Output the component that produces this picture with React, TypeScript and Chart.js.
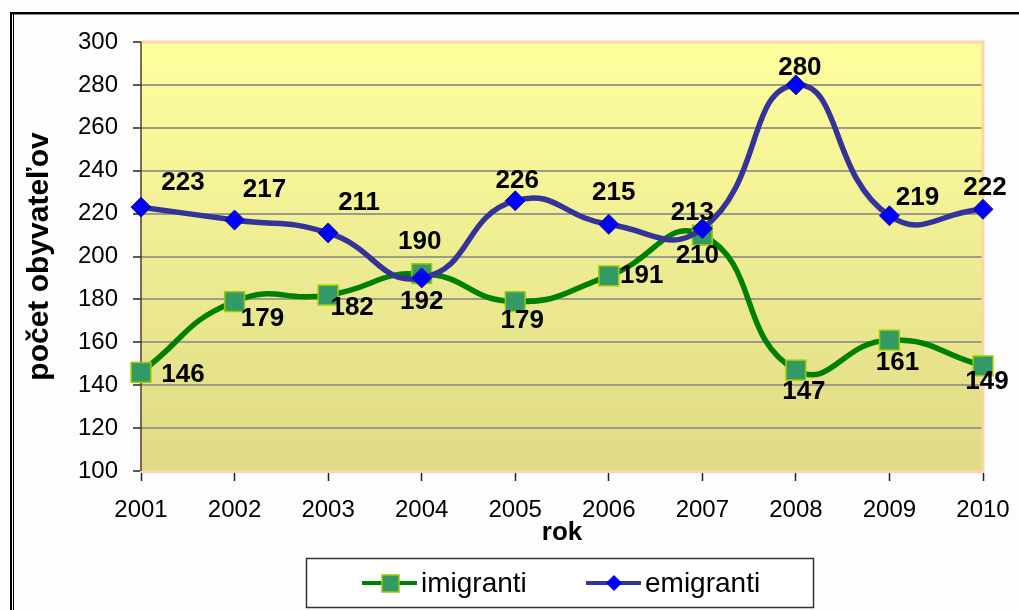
import React, { useEffect, useRef } from "react";
import { Chart, registerables } from "chart.js";

Chart.register(...registerables);

const years = ["2001", "2002", "2003", "2004", "2005", "2006", "2007", "2008", "2009", "2010"];
const imigranti = [146, 179, 182, 192, 179, 191, 210, 147, 161, 149];
const emigranti = [223, 217, 211, 190, 226, 215, 213, 280, 219, 222];
const yTicks = [100, 120, 140, 160, 180, 200, 220, 240, 260, 280, 300];

// label placement offsets (style only)
const emiLabelOffsets = [[42, -24], [30, -30], [31, -30], [-2, -36], [2, -20], [5, -31], [-10, -16], [4, -17], [28, -18], [2, -21]];
const imiLabelOffsets = [[42, 2], [28, 17], [24, 13], [0, 28], [7, 19], [33, 0], [-5, 21], [8, 22], [8, 23], [4, 16]];

const FONT = "'Liberation Sans', Arial, sans-serif";
const GREEN = "#008000";
const NAVY = "#333399";

const bgPlugin = {
  id: "bgPlugin",
  beforeDraw(chart: any) {
    const { ctx, chartArea } = chart;
    ctx.save();
    ctx.fillStyle = "#fdfdfd";
    ctx.fillRect(0, 0, chart.width, chart.height);
    // outer frame
    ctx.fillStyle = "#000";
    ctx.fillRect(10, 12, chart.width, 2);
    ctx.fillStyle = "#888";
    ctx.fillRect(12, 14, chart.width, 1);
    ctx.fillStyle = "#000";
    ctx.fillRect(10, 12, 2, chart.height);
    ctx.fillRect(13, 14, 1, chart.height);
    // plot background gradient
    const g = ctx.createLinearGradient(0, chartArea.top, 0, chartArea.bottom);
    g.addColorStop(0, "#FFFF9E");
    g.addColorStop(1, "#DEDA86");
    ctx.fillStyle = g;
    ctx.fillRect(chartArea.left, chartArea.top, chartArea.right - chartArea.left, chartArea.bottom - chartArea.top);
    ctx.restore();
  },
  beforeDatasetsDraw(chart: any) {
    const { ctx, chartArea } = chart;
    ctx.save();
    ctx.strokeStyle = "#FFD3A6";
    ctx.lineWidth = 3;
    ctx.beginPath();
    ctx.moveTo(chartArea.left, chartArea.top);
    ctx.lineTo(chartArea.right, chartArea.top);
    ctx.lineTo(chartArea.right, chartArea.bottom);
    ctx.stroke();
    ctx.strokeStyle = "#5a3a1a";
    ctx.lineWidth = 1.5;
    ctx.beginPath();
    ctx.moveTo(chartArea.left, chartArea.top);
    ctx.lineTo(chartArea.left, chartArea.bottom);
    ctx.stroke();
    ctx.restore();
  },
  afterDatasetsDraw(chart: any) {
    const { ctx } = chart;
    ctx.save();
    ctx.font = `bold 26px ${FONT}`;
    ctx.fillStyle = "#000";
    ctx.textAlign = "center";
    ctx.textBaseline = "middle";
    const sets = [
      { idx: 0, data: imigranti, off: imiLabelOffsets },
      { idx: 1, data: emigranti, off: emiLabelOffsets },
    ];
    sets.forEach((s) => {
      const meta = chart.getDatasetMeta(s.idx);
      meta.data.forEach((pt: any, i: number) => {
        const [dx, dy] = s.off[i];
        ctx.fillText(String(s.data[i]), pt.x + dx, pt.y + dy);
      });
    });
    ctx.restore();
  },
  afterDraw(chart: any) {
    const { ctx } = chart;
    ctx.save();
    // legend box
    ctx.fillStyle = "#fff";
    ctx.fillRect(306, 558, 507, 49);
    ctx.strokeStyle = "#333";
    ctx.lineWidth = 1.5;
    ctx.strokeRect(306.5, 558.5, 507, 49);
    const cy = 583;
    const ds = chart.data.datasets;
    // imigranti item
    ctx.strokeStyle = ds[0].borderColor;
    ctx.lineWidth = 4;
    ctx.beginPath();
    ctx.moveTo(362, cy);
    ctx.lineTo(417, cy);
    ctx.stroke();
    ctx.fillStyle = ds[0].pointBackgroundColor;
    ctx.fillRect(382, cy - 8, 17, 17);
    ctx.strokeStyle = ds[0].pointBorderColor;
    ctx.lineWidth = 1.5;
    ctx.strokeRect(382, cy - 8, 17, 17);
    // emigranti item
    ctx.strokeStyle = ds[1].borderColor;
    ctx.lineWidth = 4;
    ctx.beginPath();
    ctx.moveTo(586, cy);
    ctx.lineTo(641, cy);
    ctx.stroke();
    ctx.fillStyle = ds[1].pointBackgroundColor;
    ctx.beginPath();
    ctx.moveTo(614, cy - 8);
    ctx.lineTo(622, cy);
    ctx.lineTo(614, cy + 8);
    ctx.lineTo(606, cy);
    ctx.closePath();
    ctx.fill();
    ctx.font = `28px ${FONT}`;
    ctx.fillStyle = "#000";
    ctx.textAlign = "left";
    ctx.textBaseline = "middle";
    ctx.fillText(ds[0].label, 421, cy + 1);
    ctx.fillText(ds[1].label, 645, cy + 1);
    ctx.restore();
  },
};

export default function App() {
  const ref = useRef<HTMLCanvasElement | null>(null);

  useEffect(() => {
    if (!ref.current) return;
    const chart = new Chart(ref.current, {
      type: "line",
      data: {
        labels: years,
        datasets: [
          {
            label: "imigranti",
            data: imigranti,
            borderColor: GREEN,
            borderWidth: 5.5,
            tension: 0.5,
            pointStyle: "rect",
            pointRadius: 14,
            pointBackgroundColor: "#339966",
            pointBorderColor: "#99CC00",
            pointBorderWidth: 1.5,
            clip: false,
            order: 1,
          },
          {
            label: "emigranti",
            data: emigranti,
            borderColor: NAVY,
            borderWidth: 5.5,
            tension: 0.5,
            pointStyle: "rectRot",
            pointRadius: 10,
            pointBackgroundColor: "#0000FF",
            pointBorderColor: "#1a1a80",
            pointBorderWidth: 1,
            clip: false,
            order: 0,
          },
        ],
      },
      options: {
        responsive: false,
        animation: false,
        devicePixelRatio: 1,
        layout: { padding: { top: 42, right: 36, left: 0, bottom: 0 } },
        plugins: { legend: { display: false }, tooltip: { enabled: false } },
        scales: {
          x: {
            offset: false,
            grid: { drawOnChartArea: false, drawTicks: true, tickLength: 10, tickColor: "#222", tickWidth: 1.5 },
            border: { display: true, color: "#FFD3A6", width: 3 },
            ticks: { color: "#000", font: { family: FONT, size: 24 }, padding: 15, maxRotation: 0, autoSkip: false },
            title: { display: true, text: "rok", color: "#000", font: { family: FONT, size: 26, weight: "bold" }, padding: { top: 0, bottom: 62 } },
            afterFit: (s: any) => { s.height = 139; s.paddingLeft = 0; s.paddingRight = 0; },
          },
          y: {
            min: 100,
            max: 300,
            afterBuildTicks: (s: any) => { s.ticks = yTicks.map((v) => ({ value: v })); },
            grid: { color: "#9C9C8A", lineWidth: 2, tickLength: 8, tickColor: "#222", tickWidth: 1.5 },
            border: { display: false },
            ticks: { color: "#000", font: { family: FONT, size: 24 }, padding: 15 },
            title: { display: true, text: "počet obyvateľov", color: "#000", font: { family: FONT, size: 30, weight: "bold" }, padding: { top: 22, bottom: 0 } },
            afterFit: (s: any) => { s.width = 141; s.paddingTop = 0; s.paddingBottom = 0; },
          },
        },
      },
      plugins: [bgPlugin],
    });
    return () => chart.destroy();
  }, []);

  return (
    <div style={{ position: "fixed", left: 0, top: 0, width: 1019, height: 610, background: "#fdfdfd" }}>
      <canvas ref={ref} width={1019} height={610} style={{ width: 1019, height: 610, display: "block" }} />
    </div>
  );
}
